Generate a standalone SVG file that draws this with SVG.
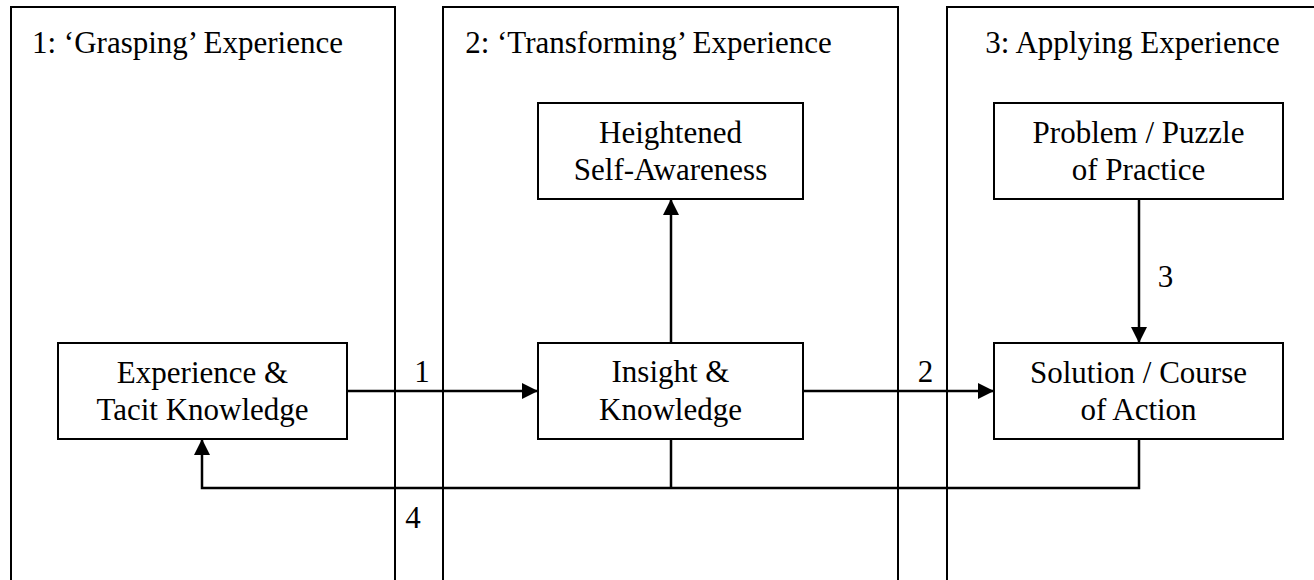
<svg xmlns="http://www.w3.org/2000/svg" width="1314" height="580" viewBox="0 0 1314 580">
  <style>
    text { font-family: "Liberation Serif", "Times New Roman", serif; font-size: 31px; fill: #000; }
    .mid { text-anchor: middle; }
    .panel { fill: none; stroke: #000; stroke-width: 2; }
    .box { fill: #fff; stroke: #000; stroke-width: 2; }
    .conn { fill: none; stroke: #000; stroke-width: 2.5; }
  </style>
  <defs>
    <marker id="arrow" markerWidth="16" markerHeight="16" refX="16" refY="8" orient="auto" markerUnits="userSpaceOnUse">
      <path d="M0,0 L16,8 L0,16 Z" fill="#000"/>
    </marker>
  </defs>
  <rect width="1314" height="580" fill="#fff"/>

  <g id="panel1">
    <path class="panel" d="M11,590 V7 H395 V590"/>
    <text class="mid" x="187.5" y="53">1: ‘Grasping’ Experience</text>
  </g>
  <g id="panel2">
    <path class="panel" d="M443,590 V7 H898 V590"/>
    <text class="mid" x="648.5" y="53">2: ‘Transforming’ Experience</text>
  </g>
  <g id="panel3">
    <path class="panel" d="M947,590 V7 H1320"/>
    <text class="mid" x="1132.5" y="53">3: Applying Experience</text>
  </g>

  <g id="connectors">
    <line class="conn" x1="347" y1="391" x2="538" y2="391" marker-end="url(#arrow)"/>
    <line class="conn" x1="803" y1="391" x2="994" y2="391" marker-end="url(#arrow)"/>
    <line class="conn" x1="671" y1="343" x2="671" y2="199" marker-end="url(#arrow)"/>
    <line class="conn" x1="1139" y1="199" x2="1139" y2="343" marker-end="url(#arrow)"/>
    <path class="conn" d="M1139,439 V488 H202 V439" marker-end="url(#arrow)"/>
    <line class="conn" x1="671" y1="439" x2="671" y2="488"/>
    <text class="mid" x="422" y="382">1</text>
    <text class="mid" x="925.5" y="382">2</text>
    <text class="mid" x="1165.5" y="287">3</text>
    <text class="mid" x="413" y="528">4</text>
  </g>

  <g id="experience">
    <rect class="box" x="58" y="343" width="289" height="96"/>
    <text class="mid" x="202.5" y="383">Experience &amp;</text>
    <text class="mid" x="202.5" y="420">Tacit Knowledge</text>
  </g>
  <g id="insight">
    <rect class="box" x="538" y="343" width="265" height="96"/>
    <text class="mid" x="670.5" y="382">Insight &amp;</text>
    <text class="mid" x="670.5" y="420">Knowledge</text>
  </g>
  <g id="heightened">
    <rect class="box" x="538" y="103" width="265" height="96"/>
    <text class="mid" x="670.5" y="143">Heightened</text>
    <text class="mid" x="670.5" y="180">Self-Awareness</text>
  </g>
  <g id="problem">
    <rect class="box" x="994" y="103" width="289" height="96"/>
    <text class="mid" x="1138.5" y="143">Problem / Puzzle</text>
    <text class="mid" x="1138.5" y="180">of Practice</text>
  </g>
  <g id="solution">
    <rect class="box" x="994" y="343" width="289" height="96"/>
    <text class="mid" x="1138.5" y="383">Solution / Course</text>
    <text class="mid" x="1138.5" y="420">of Action</text>
  </g>
</svg>
